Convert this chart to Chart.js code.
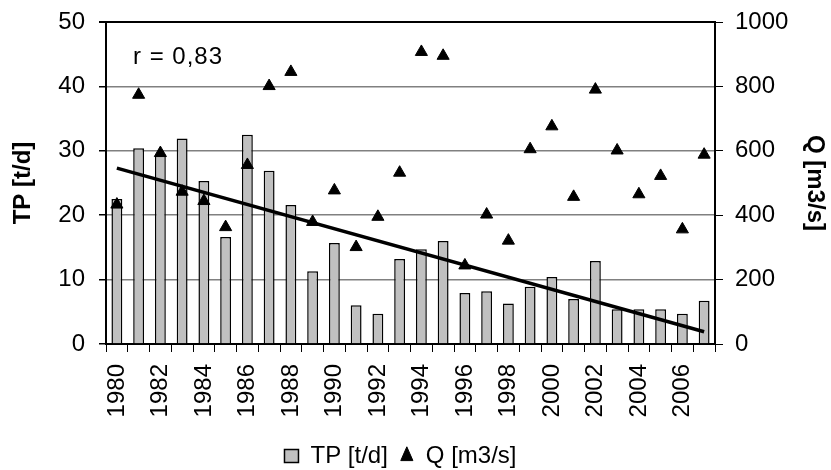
<!DOCTYPE html>
<html>
<head>
<meta charset="utf-8">
<script src="https://cdn.jsdelivr.net/npm/chart.js@4"></script>
<style>
html,body{margin:0;padding:0;background:#fff;}
#wrap{width:831px;height:470px;position:relative;}
</style>
</head>
<body>
<div id="wrap"><canvas id="c" width="831" height="470"></canvas></div>
<script>
const years = ['1980','1981','1982','1983','1984','1985','1986','1987','1988','1989','1990','1991','1992','1993','1994','1995','1996','1997','1998','1999','2000','2001','2002','2003','2004','2005','2006','2007'];
const tpValues = [22.5,30.4,29.4,31.9,25.3,16.6,32.5,26.9,21.6,11.3,15.7,6.0,4.7,13.2,14.7,16.0,7.9,8.2,6.3,8.9,10.4,7.0,12.9,5.4,5.4,5.4,4.7,6.7];
const qValues = [433,774,593,473,444,363,556,801,845,379,477,301,395,532,907,895,244,402,321,605,676,457,790,601,465,522,356,588];
const trendEnds = [27.3, 1.9];
const corrLabel = 'r = 0,83';
const tpTicks = [0,10,20,30,40,50];
const qTicks = [0,200,400,600,800,1000];

const trendData = years.map((y,i)=> i===0 ? trendEnds[0] : (i===years.length-1 ? trendEnds[1] : null));

const FONT = '"Liberation Sans", Arial, sans-serif';
Chart.defaults.font.family = FONT;
Chart.defaults.color = '#000';

const annot = {
  id:'annot',
  afterUpdate(chart){
    const lg = chart.legend;
    if (lg) { lg.top += 8; lg.bottom += 8; lg.left -= 15; lg.right -= 15; }
  },
  afterDraw(chart){
    const {ctx, chartArea} = chart;
    ctx.save();
    ctx.font = '24px ' + FONT;
    if ('letterSpacing' in ctx) ctx.letterSpacing = '1px';
    ctx.fillStyle = '#000';
    ctx.textBaseline = 'middle';
    ctx.textAlign = 'left';
    ctx.fillText(corrLabel, chartArea.left + 27, chartArea.top + 35);
    ctx.restore();
  }
};

new Chart(document.getElementById('c'), {
  data: {
    labels: years,
    datasets: [
      {
        type:'line', label:'trend', data: trendData, yAxisID:'y',
        borderColor:'#000', borderWidth:3.5, pointRadius:0, spanGaps:true, order:0
      },
      {
        type:'line', label:'Q [m3/s]', data: qValues, yAxisID:'y1',
        showLine:false, pointStyle:'triangle', pointRadius:7, pointHoverRadius:7,
        backgroundColor:'#000', borderColor:'#000', borderWidth:1, order:1
      },
      {
        type:'bar', label:'TP [t/d]', data: tpValues, yAxisID:'y',
        backgroundColor:'#c0c0c0', borderColor:'#000', borderWidth:1.5,
        barPercentage:0.5, categoryPercentage:1.0, pointStyle:'rect', order:2
      }
    ]
  },
  options: {
    responsive:false, animation:false,
    layout:{padding:0},
    plugins:{
      tooltip:{enabled:false},
      legend:{
        position:'bottom',
        reverse:true,
        labels:{
          filter:(item)=>item.text!=='trend',
          usePointStyle:true, pointStyleWidth:14,
          boxHeight:13,
          font:{size:24, family:FONT}, color:'#000', padding:12
        }
      }
    },
    scales:{
      x:{
        offset:true,
        grid:{offset:true, drawOnChartArea:false, drawTicks:true, tickLength:8, color:'#000', lineWidth:1},
        border:{color:'#000', width:2},
        ticks:{
          autoSkip:false, maxRotation:90, minRotation:90, padding:12,
          font:{size:24}, color:'#000',
          callback:function(v,i){ return i%2===0 ? years[i] : ''; }
        },
        afterFit:(s)=>{ s.height = 80; }
      },
      y:{
        position:'left', min:0, max:50,
        afterBuildTicks:(s)=>{ s.ticks = tpTicks.map(v=>({value:v})); },
        grid:{
          color:(c)=> (c.tick && (c.tick.value===50)) ? '#000' : '#808080',
          lineWidth:(c)=> (c.tick && c.tick.value===50) ? 2 : 1.5,
          tickLength:7, tickColor:'#000', drawTicks:true
        },
        border:{color:'#000', width:2},
        ticks:{font:{size:24}, color:'#000', padding:14, callback:(v)=>String(v)},
        title:{display:true, text:'TP [t/d]', font:{size:24, weight:'bold'}, color:'#000', padding:{top:9,bottom:0}},
        afterFit:(s)=>{ s.width = 106; s.paddingTop = 22; }
      },
      y1:{
        position:'right', min:0, max:1000,
        afterBuildTicks:(s)=>{ s.ticks = qTicks.map(v=>({value:v})); },
        grid:{drawOnChartArea:false, tickLength:8, color:'#000'},
        border:{color:'#000', width:2},
        ticks:{font:{size:24}, color:'#000', padding:12, callback:(v)=>String(v)},
        title:{display:true, text:'Q [m3/s]', font:{size:24, weight:'bold'}, color:'#000', padding:{top:2,bottom:0}},
        afterFit:(s)=>{ s.width = 116; s.paddingTop = 22; }
      }
    }
  },
  plugins:[annot]
});
</script>
</body>
</html>
